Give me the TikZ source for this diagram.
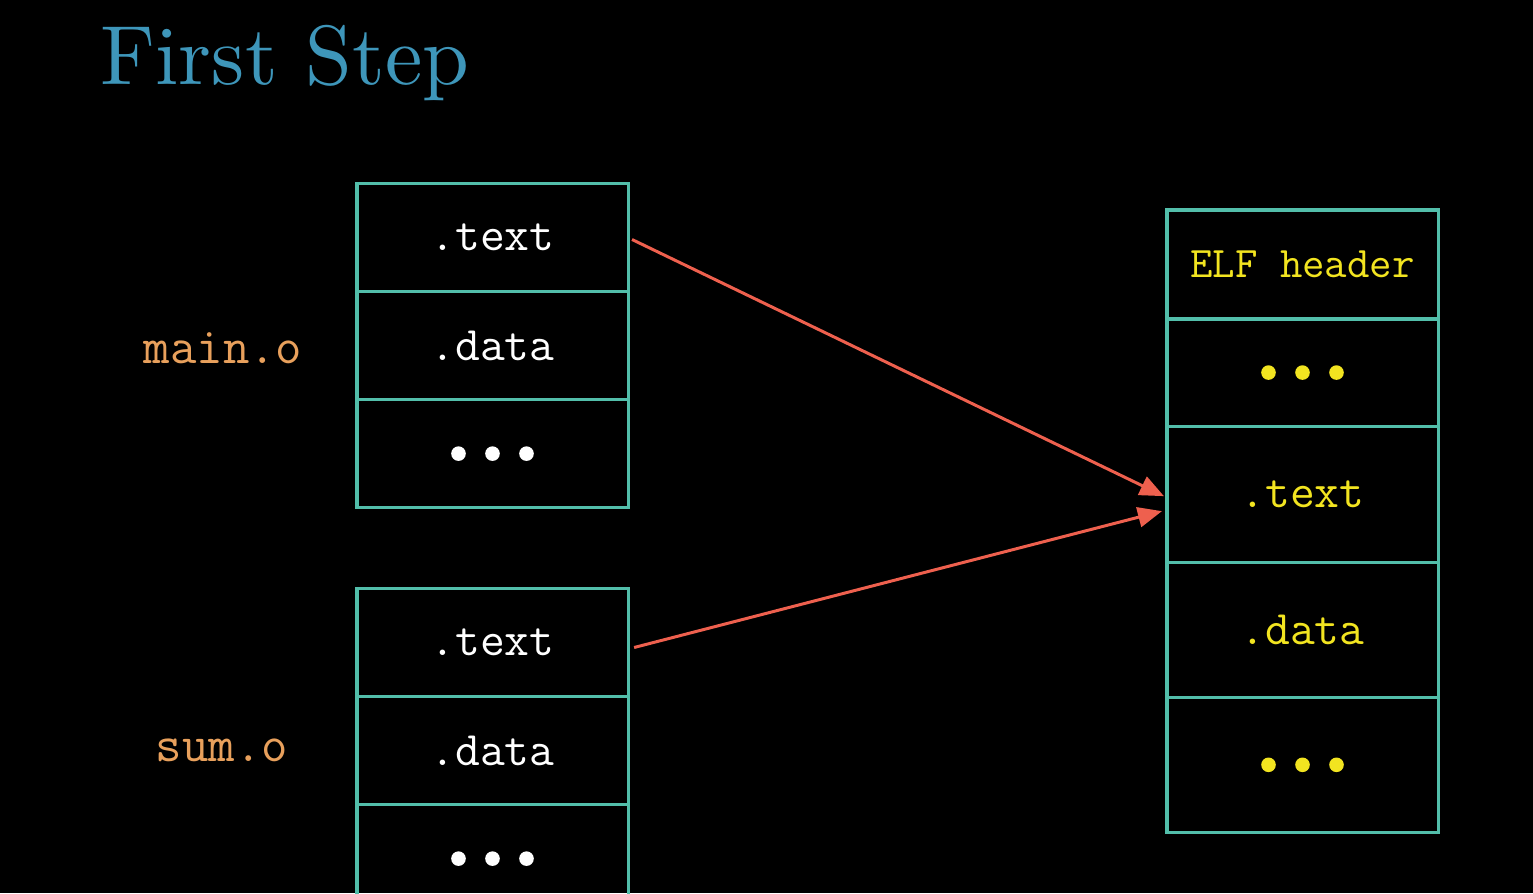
\documentclass[tikz,border=0pt]{standalone}
\usepackage{fontspec}
\usepackage{xcolor}
\usepackage{tikz}
\usetikzlibrary{arrows.meta, positioning, calc}

\newfontfamily\titlefont{lmroman10-regular}[Extension=.otf]

\definecolor{cellline}{RGB}{82,190,170}
\definecolor{titleblue}{RGB}{62,150,186}
\definecolor{fileorange}{RGB}{232,160,92}
\definecolor{elfyellow}{RGB}{242,228,32}
\definecolor{relocred}{RGB}{238,96,78}

\tikzset{
    cell/.style={rectangle, draw=cellline, line width=0.9pt, outer sep=0pt,
        minimum width=2.71cm, minimum height=1.08cm, inner sep=0pt,
        text=white, font=\ttfamily\fontsize{13.7}{16}\selectfont},
    elfcell/.style={cell, text=elfyellow},
    filename/.style={text=fileorange, font=\ttfamily\fontsize{14.6}{17}\selectfont},
    reloc/.style={->, relocred, line width=0.85pt}
}

\begin{document}
\begin{tikzpicture}[x=0.01cm, y=-0.01cm, >={Triangle[length=0.24cm, width=0.2cm]}]
    \useasboundingbox (0,0) rectangle (1533,893);
    \fill[black] (0,0) rectangle (1533,893);
    \clip (0,0) rectangle (1533,893);

    \node[anchor=base west, inner sep=0pt, text=titleblue, font=\titlefont\fontsize{23.9}{28}\selectfont] (title) at (100,84) {First Step};

    % main.o
    \node[cell] (mtext) at (492.5,237.5) {.text};
    \node[cell] (mdata) [below=0pt of mtext] {.data};
    \node[cell] (mrest) [below=0pt of mdata] {};
    \node[filename] (mainname) at (223,348) {main.o};

    % sum.o
    \node[cell] (stext) at (492.5,642.5) {.text};
    \node[cell] (sdata) [below=0pt of stext] {.data};
    \node[cell] (srest) [below=0pt of sdata] {};
    \node[filename] (sumname) at (222,750) {sum.o};

    % executable
    \node[elfcell, minimum height=1.09cm, font=\ttfamily\fontsize{12.4}{15}\selectfont] (ehead) at (1302.5,264.5) {ELF header};
    \node[elfcell, minimum height=1.07cm] (erest1) [below=0pt of ehead] {};
    \node[elfcell, minimum height=1.36cm] (etext) [below=0pt of erest1] {.text};
    \node[elfcell, minimum height=1.35cm] (edata) [below=0pt of etext] {.data};
    \node[elfcell, minimum height=1.35cm] (erest2) [below=0pt of edata] {};

    \foreach \dx in {-34,0,34} {
        \fill[white] ($(mrest.center)+(\dx,0)$) circle (7.3);
        \fill[white] ($(srest.center)+(\dx,0)$) circle (7.3);
        \fill[elfyellow] ($(erest1.center)+(\dx,0)$) circle (7.3);
        \fill[elfyellow] ($(erest2.center)+(\dx,0)$) circle (7.3);
    }

    \coordinate (intoA) at ($(etext.west)+(-3,2)$);
    \coordinate (intoB) at ($(etext.west)+(-5,17)$);
    \draw[reloc] ($(mtext.east)+(4,2)$) -- (intoA);
    \draw[reloc] ($(stext.east)+(6,5)$) -- (intoB);
\end{tikzpicture}
\end{document}
